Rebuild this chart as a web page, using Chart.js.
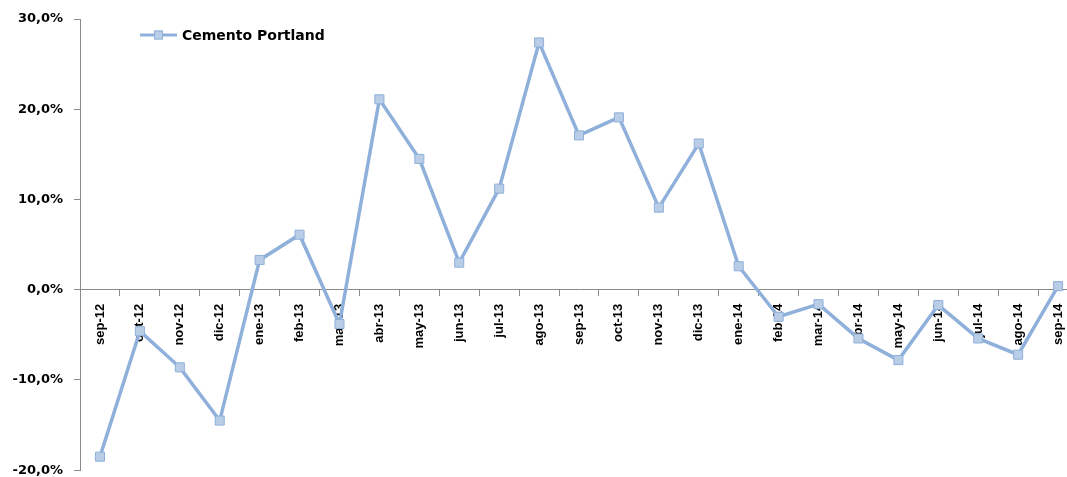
<!DOCTYPE html>
<html>
<head>
<meta charset="utf-8">
<script src="https://cdn.jsdelivr.net/npm/chart.js@4"></script>
<style>
    html, body { margin: 0; padding: 0; background: #fff; overflow: hidden; }
    #wrap { width: 1067px; height: 477px; overflow: hidden; }
</style>
</head>
<body>
<div id="wrap"><canvas id="chart" width="1090" height="489"></canvas></div>
<script>
const months = [
    "sep-12", "oct-12", "nov-12", "dic-12", "ene-13", "feb-13", "mar-13", "abr-13", "may-13",
    "jun-13", "jul-13", "ago-13", "sep-13", "oct-13", "nov-13", "dic-13", "ene-14", "feb-14",
    "mar-14", "abr-14", "may-14", "jun-14", "jul-14", "ago-14", "sep-14"
]

// variación interanual, en %
const cementoPortland = [
    -18.5, -4.6, -8.6, -14.5, 3.3, 6.1, -3.8, 21.1, 14.5,
    3.0, 11.2, 27.4, 17.1, 19.1, 9.1, 16.2, 2.6, -3.0,
    -1.6, -5.4, -7.8, -1.7, -5.4, -7.2, 0.4
]

const yTicks = [-20, -10, 0, 10, 20, 30]

const lineColor = "#8fb0da"
const markerFill = "#b9cde6"
const axisColor = "#8a8a8a"

const pct = v => v.toFixed(1).replace(".", ",") + "%"

// leyenda estilo Excel: línea con marcador cuadrado dentro del área del gráfico
const insideLegend = {
    id: "insideLegend",
    afterDraw(chart) {
        const ctx = chart.ctx
        const ds = chart.data.datasets[0]
        const x = chart.chartArea.left + 60
        const y = chart.chartArea.top + 16
        ctx.save()
        ctx.strokeStyle = ds.borderColor
        ctx.lineWidth = 3
        ctx.beginPath()
        ctx.moveTo(x, y)
        ctx.lineTo(x + 37, y)
        ctx.stroke()
        ctx.fillStyle = ds.pointBackgroundColor
        ctx.strokeStyle = ds.pointBorderColor
        ctx.lineWidth = 1
        ctx.fillRect(x + 14, y - 4.5, 9, 9)
        ctx.strokeRect(x + 14.5, y - 4, 8, 8)
        ctx.fillStyle = "#000"
        ctx.font = "bold 14px 'DejaVu Sans'"
        ctx.textBaseline = "middle"
        ctx.fillText(ds.label, x + 42, y + 1)
        ctx.restore()
    }
}

new Chart(document.querySelector("#chart"), {
    type: "line",
    data: {
        labels: months,
        datasets: [{
            label: "Cemento Portland",
            data: cementoPortland,
            borderColor: lineColor,
            borderWidth: 3.5,
            pointStyle: "rect",
            pointRadius: 6.4,
            pointBackgroundColor: markerFill,
            pointBorderColor: lineColor,
            pointBorderWidth: 1,
            tension: 0
        }]
    },
    options: {
        responsive: false,
        animation: false,
        devicePixelRatio: 1,
        layout: { padding: { top: 19, bottom: 8, left: 0, right: 12 } },
        plugins: {
            legend: { display: false },
            tooltip: { enabled: false }
        },
        scales: {
            x: {
                type: "category",
                position: { y: 0 },
                offset: true,
                afterFit: s => { s.height = 0 },
                border: { color: axisColor, width: 1 },
                grid: {
                    offset: true,
                    drawOnChartArea: false,
                    drawTicks: true,
                    tickLength: 6,
                    color: axisColor
                },
                ticks: {
                    autoSkip: false,
                    minRotation: 90,
                    maxRotation: 90,
                    padding: 8,
                    color: "#000",
                    font: { family: "'Liberation Sans'", weight: "bold", size: 13 }
                }
            },
            y: {
                min: -20,
                max: 30,
                afterFit: s => { s.width = 80 },
                afterBuildTicks: s => { s.ticks = yTicks.map(v => ({ value: v })) },
                border: { color: axisColor, width: 1 },
                grid: {
                    drawOnChartArea: false,
                    drawTicks: true,
                    tickLength: 6,
                    color: axisColor
                },
                ticks: {
                    padding: 11,
                    color: "#000",
                    callback: v => pct(v),
                    font: { family: "'DejaVu Sans'", weight: "bold", size: 13 }
                }
            }
        }
    },
    plugins: [insideLegend]
})
</script>
</body>
</html>
